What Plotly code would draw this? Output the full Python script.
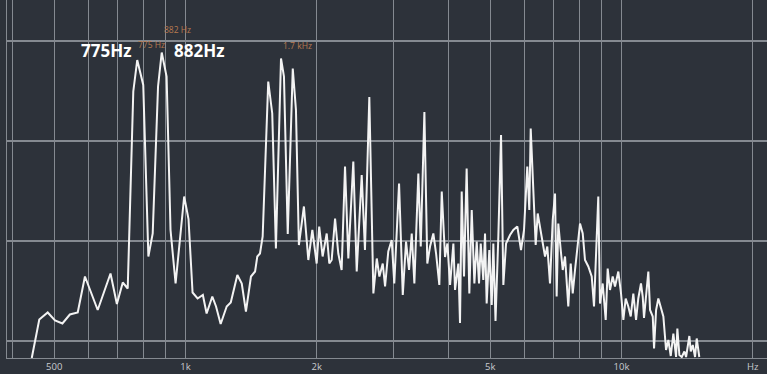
import math
import plotly.graph_objects as go

# Spectrum trace: frequency (Hz) and level (dB)
freq_hz = [
    444, 462, 483, 502, 522, 543, 566, 588, 629, 673,
    696, 718, 737, 759, 775, 800, 822, 841, 865, 882,
    905, 924, 949, 993, 1016, 1038, 1066, 1096, 1118, 1152,
    1175, 1204, 1243, 1270, 1315, 1346, 1376, 1413, 1444, 1461,
    1482, 1503, 1548, 1581, 1612, 1656, 1682, 1716, 1762, 1792,
    1820, 1869, 1913, 1954, 1999, 2026, 2063, 2108, 2137, 2164,
    2203, 2241, 2281, 2322, 2363, 2426, 2470, 2536, 2580, 2640,
    2697, 2746, 2784, 2834, 2869, 2918, 2971, 3012, 3089, 3150,
    3205, 3256, 3303, 3349, 3420, 3464, 3531, 3586, 3638, 3702,
    3756, 3821, 3870, 3938, 3987, 4044, 4115, 4152, 4224, 4262,
    4300, 4353, 4414, 4477, 4534, 4598, 4655, 4712, 4755, 4820,
    4864, 4906, 4975, 5039, 5082, 5141, 5218, 5293, 5358, 5435,
    5550, 5648, 5768, 5882, 5976, 6080, 6145, 6191, 6277, 6356,
    6424, 6503, 6618, 6677, 6758, 6855, 6954, 7039, 7100, 7162,
    7254, 7331, 7421, 7550, 7647, 7729, 7823, 7918, 8032, 8148,
    8247, 8392, 8544, 8649, 8742, 8846, 8926, 9054, 9199, 9296,
    9410, 9545, 9662, 9833, 9975, 10098, 10224, 10366, 10499, 10644,
    10798, 10927, 11084, 11185, 11262, 11421, 11522, 11627, 11794, 11876,
    12003, 12147, 12302, 12474, 12653, 12806, 12970, 13151, 13339, 13431,
    13574, 13747, 13939, 14064, 14309, 14415, 14569, 14747, 14876, 15080,
]
level_db = [
    -63.4, -55.7, -54.3, -55.9, -56.5, -54.7, -54.3, -47.1, -53.8, -46.5,
    -52.6, -48.3, -49.5, -10.1, -3.8, -8.8, -43.1, -38.5, -9.1, -2.3,
    -7.1, -37.8, -48.5, -31.1, -35.6, -50.3, -51.5, -50.8, -54.5, -51.1,
    -53.1, -56.6, -53.1, -52.3, -46.8, -48.5, -54.1, -47.1, -46.1, -43.1,
    -42.5, -39.1, -8.1, -14.5, -41.5, -3.5, -7.1, -38.6, -5.5, -13.8,
    -40.8, -33.1, -43.8, -37.8, -44.5, -37.1, -43.1, -38.5, -44.5, -43.8,
    -35.5, -42.5, -45.8, -25.1, -43.5, -24.1, -46.1, -26.8, -41.8, -11.2,
    -50.5, -43.5, -47.1, -44.5, -49.1, -42.1, -39.8, -48.5, -28.5, -50.8,
    -40.1, -45.8, -38.5, -48.5, -26.5, -41.1, -14.2, -44.5, -41.1, -38.5,
    -42.5, -48.8, -30.1, -43.2, -40.5, -48.8, -40.5, -49.8, -44.5, -56.4,
    -30.1, -47.1, -25.5, -50.5, -33.8, -48.5, -40.1, -48.5, -40.5, -47.8,
    -38.5, -52.5, -41.8, -52.8, -40.5, -56.0, -39.1, -18.8, -48.8, -40.5,
    -38.8, -37.8, -37.1, -41.8, -37.8, -25.1, -33.8, -17.5, -29.8, -40.8,
    -34.5, -37.1, -40.5, -43.1, -41.1, -48.5, -35.8, -30.5, -51.1, -36.5,
    -41.8, -45.8, -43.1, -53.1, -44.5, -50.5, -45.8, -41.8, -36.5, -38.5,
    -43.8, -45.1, -47.1, -53.1, -43.8, -31.1, -52.5, -48.5, -55.8, -45.5,
    -49.8, -47.1, -49.1, -46.1, -50.5, -55.8, -51.5, -53.1, -55.1, -50.5,
    -55.8, -51.5, -48.5, -51.1, -55.4, -49.8, -46.1, -53.8, -55.1, -61.5,
    -53.8, -51.5, -53.1, -55.1, -61.8, -59.8, -63.0, -58.5, -63.2, -57.5,
    -62.8, -63.2, -62.1, -63.2, -59.0, -62.1, -60.8, -63.2, -59.5, -63.2,
]

# Axis ticks
major_ticks = [500, 1000, 2000, 5000, 10000, 20000]
major_labels = ["500", "1k", "2k", "5k", "10k", "Hz"]
minor_ticks = [400, 600, 700, 800, 900, 3000, 4000, 6000, 7000, 8000, 9000]
level_grid = [-60, -40, -20, 0]

# Marked peaks (Hz)
peak_775 = 775
peak_882 = 882
peak_1k7 = 1700

BG = "#2d323a"
GRID = "#858a91"
ORANGE = "#b87a50"

fig = go.Figure()
fig.add_trace(go.Scatter(
    x=freq_hz, y=level_db, mode="lines",
    line=dict(color="#f3f3f3", width=2),
    hoverinfo="skip", showlegend=False,
))

big = dict(family="Open Sans", size=17, color="#ffffff", weight=700)
small = dict(family="Open Sans", size=8.5, color=ORANGE)


def label(freq, level, text, anchor, shift, font):
    # annotations on a log axis take log10 positions
    fig.add_annotation(x=math.log10(freq), y=level, xref="x", yref="y",
                       text=text, showarrow=False, xanchor=anchor,
                       yanchor="middle", xshift=shift, font=font)


label(peak_775, -1.8, "775Hz", "right", -4, big)
label(peak_882, -1.8, "882Hz", "left", 10, big)
label(peak_775, -0.6, "775 Hz", "left", -1, small)
label(peak_882, 2.3, "882 Hz", "left", 0, small)
label(peak_1k7, -0.8, "1.7 kHz", "center", 12, small)

fig.update_layout(
    width=767, height=374,
    margin=dict(l=7, r=0, t=0, b=16),
    paper_bgcolor=BG, plot_bgcolor=BG,
    xaxis=dict(
        type="log", range=[2.5906, 4.3337],
        tickmode="array", tickvals=major_ticks, ticktext=major_labels,
        showgrid=True, gridcolor=GRID, gridwidth=1,
        minor=dict(tickmode="array", tickvals=minor_ticks, showgrid=True,
                   gridcolor=GRID, gridwidth=1),
        ticks="", ticklabelstandoff=0, automargin=False,
        tickfont=dict(family="Open Sans", size=9.5, color="#c8cbcf"),
        showline=True, linecolor=GRID, linewidth=1,
        zeroline=False, fixedrange=True,
    ),
    yaxis=dict(
        range=[-63.4, 8.2],
        tickmode="array", tickvals=level_grid,
        showticklabels=False, ticks="", automargin=False,
        showgrid=True, gridcolor=GRID, gridwidth=1.5,
        showline=True, linecolor=GRID, linewidth=1,
        zeroline=False, fixedrange=True,
    ),
)

fig.write_html("out.html")
